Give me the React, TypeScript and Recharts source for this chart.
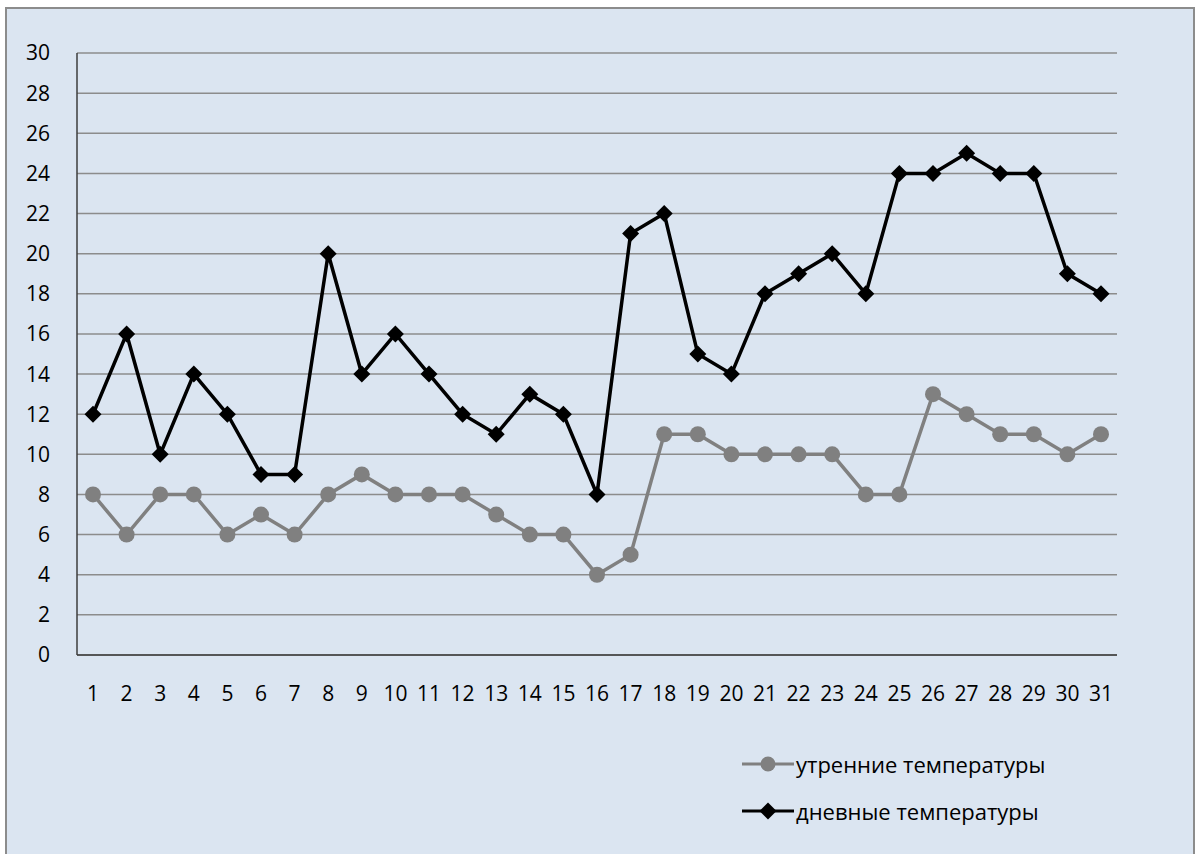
import { LineChart, Line, XAxis, YAxis, CartesianGrid } from 'recharts';

const days = [
  '1', '2', '3', '4', '5', '6', '7', '8', '9', '10', '11', '12', '13', '14', '15', '16',
  '17', '18', '19', '20', '21', '22', '23', '24', '25', '26', '27', '28', '29', '30', '31',
];
const morningTemps = [8, 6, 8, 8, 6, 7, 6, 8, 9, 8, 8, 8, 7, 6, 6, 4, 5, 11, 11, 10, 10, 10, 10, 8, 8, 13, 12, 11, 11, 10, 11];
const dayTemps = [12, 16, 10, 14, 12, 9, 9, 20, 14, 16, 14, 12, 11, 13, 12, 8, 21, 22, 15, 14, 18, 19, 20, 18, 24, 24, 25, 24, 24, 19, 18];
const yTicks = [0, 2, 4, 6, 8, 10, 12, 14, 16, 18, 20, 22, 24, 26, 28, 30];

const MORNING_LABEL = 'утренние температуры';
const DAY_LABEL = 'дневные температуры';

const FONT = '"Open Sans", "DejaVu Sans", sans-serif';
const GRAY = '#808080';
const BORDER = '#3c3c3c';

const data = days.map((d, i) => ({ day: d, morning: morningTemps[i], daytime: dayTemps[i] }));

function Diamond(props: any) {
  const { cx, cy } = props;
  if (cx == null || cy == null) return null;
  const r = 8.5;
  return <path d={`M${cx},${cy - r}L${cx + r},${cy}L${cx},${cy + r}L${cx - r},${cy}Z`} fill="#000" />;
}

// legend drawn as plain html so it doesn't eat into the plot area
function LegendBox() {
  const row = (label: string, color: string, marker: 'circle' | 'diamond') => (
    <div style={{ display: 'flex', alignItems: 'center', height: 47 }}>
      <svg width={52} height={20}>
        <line x1={0} x2={52} y1={10} y2={10} stroke={color} strokeWidth={3} />
        {marker === 'circle' ? (
          <circle cx={26} cy={10} r={7.5} fill={color} />
        ) : (
          <path d="M26,1.5L34.5,10L26,18.5L17.5,10Z" fill={color} />
        )}
      </svg>
      <span style={{ fontFamily: FONT, fontSize: 22, color: '#000', marginLeft: 2, lineHeight: 1 }}>{label}</span>
    </div>
  );
  return (
    <div style={{ position: 'absolute', left: 742, top: 740 }}>
      {row(MORNING_LABEL, GRAY, 'circle')}
      {row(DAY_LABEL, '#000', 'diamond')}
    </div>
  );
}

export default function App() {
  return (
    <div style={{ position: 'absolute', left: 0, top: 0, width: 1195, height: 854, background: '#fff', overflow: 'hidden' }}>
      <div
        style={{
          position: 'absolute',
          left: 5,
          top: 7,
          width: 1186,
          height: 870,
          border: '2px solid #8c8c8c',
          background: '#dbe5f1',
        }}
      />
      <div style={{ position: 'absolute', left: 0, top: 0 }}>
        <LineChart width={1195} height={854} data={data} margin={{ top: 53, right: 78, left: 17, bottom: 159 }}>
          <CartesianGrid vertical={false} stroke="#8c8c8c" strokeWidth={1.5} />
          <XAxis
            dataKey="day"
            tickLine={false}
            tickSize={0}
            tickMargin={31}
            padding={{ left: 16, right: 16 }}
            axisLine={{ stroke: BORDER, strokeWidth: 1.5 }}
            tick={{ fontFamily: FONT, fontSize: 21, fill: '#000' }}
            interval={0}
            height={40}
          />
          <XAxis
            xAxisId="top"
            dataKey="day"
            orientation="top"
            height={0}
            tick={false}
            tickLine={false}
            axisLine={{ stroke: BORDER, strokeWidth: 1.5 }}
          />
          <YAxis
            width={60}
            domain={[0, 30]}
            ticks={yTicks}
            interval={0}
            tickLine={false}
            tickSize={0}
            tickMargin={27}
            axisLine={{ stroke: BORDER, strokeWidth: 1.5 }}
            tick={{ fontFamily: FONT, fontSize: 21, fill: '#000' }}
          />
          <YAxis
            yAxisId="right"
            orientation="right"
            width={0}
            domain={[0, 30]}
            tick={false}
            tickLine={false}
            axisLine={{ stroke: BORDER, strokeWidth: 1.5 }}
          />
          <Line
            dataKey="morning"
            name={MORNING_LABEL}
            stroke={GRAY}
            strokeWidth={3.5}
            dot={{ r: 8, fill: GRAY, stroke: 'none' }}
            isAnimationActive={false}
          />
          <Line
            dataKey="daytime"
            name={DAY_LABEL}
            stroke="#000"
            strokeWidth={3.5}
            dot={<Diamond />}
            isAnimationActive={false}
          />
        </LineChart>
      </div>
      <LegendBox />
    </div>
  );
}
